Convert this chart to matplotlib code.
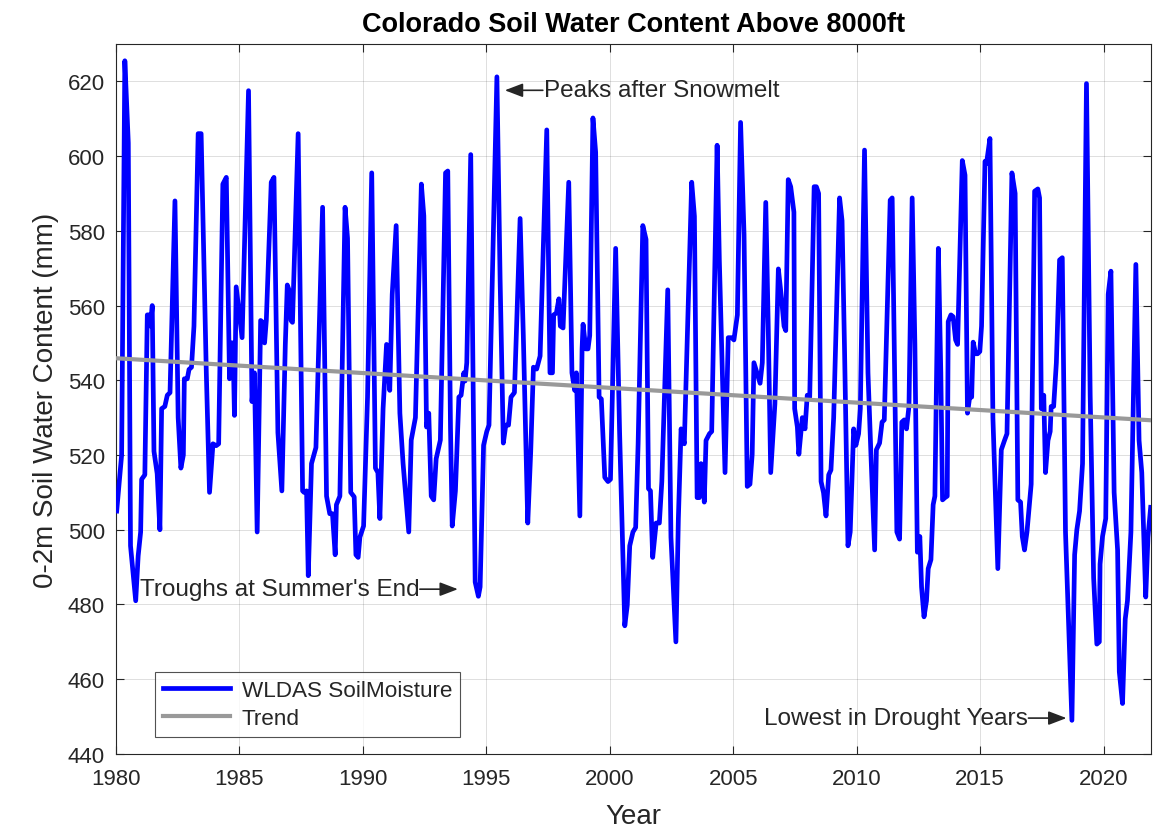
import numpy as np
import matplotlib
matplotlib.use("Agg")
import matplotlib.pyplot as plt

# WLDAS 0-2m soil water content (mm)
years_80s = [1980.03, 1980.23, 1980.36, 1980.50, 1980.59, 1980.80, 1980.90, 1981.00, 1981.04, 1981.17,
             1981.27, 1981.35, 1981.40, 1981.47, 1981.54, 1981.67, 1981.78, 1981.85, 1981.98, 1982.08,
             1982.19, 1982.39, 1982.52, 1982.63, 1982.73, 1982.77, 1982.89, 1982.96, 1983.06, 1983.16,
             1983.33, 1983.45, 1983.66, 1983.79, 1983.93, 1984.06, 1984.16, 1984.33, 1984.47, 1984.60,
             1984.67, 1984.74, 1984.80, 1984.87, 1985.01, 1985.11, 1985.37, 1985.51, 1985.61, 1985.72,
             1985.86, 1985.95, 1986.02, 1986.09, 1986.29, 1986.40, 1986.56, 1986.72, 1986.86, 1986.94,
             1987.02, 1987.09, 1987.15, 1987.38, 1987.56, 1987.62, 1987.72, 1987.79, 1987.92, 1988.10,
             1988.37, 1988.53, 1988.66, 1988.77, 1988.88, 1988.93, 1989.07, 1989.28, 1989.38, 1989.51,
             1989.65, 1989.72, 1989.81, 1989.88]
soil_80s = [505, 520, 625.5, 603.5, 495.7, 481, 493, 499.4, 513.5, 514.7,
            557.5, 557.5, 554.5, 560, 521, 515, 500, 532.4, 533, 536,
            536.7, 588, 530, 516.5, 520, 540.4, 540.4, 542.9, 543.5, 554.5,
            606, 606, 542, 510, 523, 522.5, 523, 592.5, 594.3, 540.4,
            550, 550, 530.6, 565, 557, 551.4, 617.5, 534.3, 542, 499.4,
            556, 555.5, 550, 556, 593, 594.3, 526, 510.4, 549.6, 565.5,
            564, 556, 555.5, 606, 510.4, 510, 510.4, 487.7, 517.7, 522,
            586.3, 509, 504.3, 504.3, 493.3, 506.7, 509, 586.3, 578, 510,
            508.8, 493.3, 492.6, 498]

years_90s = [1990.03, 1990.19, 1990.36, 1990.51, 1990.61, 1990.69, 1990.82, 1990.96, 1991.09, 1991.19,
             1991.35, 1991.50, 1991.63, 1991.86, 1991.96, 1992.13, 1992.37, 1992.47, 1992.58, 1992.67,
             1992.77, 1992.87, 1992.97, 1993.14, 1993.35, 1993.44, 1993.55, 1993.62, 1993.75, 1993.89,
             1993.98, 1994.09, 1994.14, 1994.21, 1994.37, 1994.55, 1994.68, 1994.75, 1994.89, 1995.02,
             1995.11, 1995.43, 1995.56, 1995.69, 1995.79, 1995.90, 1996.00, 1996.14, 1996.37, 1996.50,
             1996.68, 1996.80, 1996.91, 1997.04, 1997.18, 1997.45, 1997.58, 1997.68, 1997.73, 1997.84,
             1997.94, 1998.00, 1998.11, 1998.34, 1998.47, 1998.58, 1998.65, 1998.79, 1998.88, 1998.92,
             1999.03, 1999.12, 1999.19, 1999.32, 1999.43, 1999.57, 1999.66, 1999.80, 1999.93]
soil_90s = [501, 535.5, 595.5, 516.5, 515.3, 503, 532.4, 549.6, 537.3, 563,
            581.4, 531.2, 517.7, 499.4, 524, 530, 592.5, 584, 527.5, 531.2,
            509, 508, 519, 524, 595.5, 596, 527.5, 501, 510.4, 535.5,
            536, 542, 539.8, 544.7, 600.4, 486, 482.2, 484.7, 522.6, 526.3,
            528, 621.2, 567, 523.2, 528, 528, 535.5, 536.7, 583.3, 552,
            501.8, 521, 543.5, 543, 546.5, 607, 542, 542, 557.5, 558,
            561.8, 554.5, 554, 593, 542, 537.3, 542, 503.7, 548.4, 555,
            548.4, 548.4, 552, 610.2, 601, 535.5, 535, 514, 512.9]

years_00s = [2000.03, 2000.24, 2000.40, 2000.61, 2000.71, 2000.81, 2000.94, 2001.05, 2001.15, 2001.34,
             2001.47, 2001.57, 2001.65, 2001.74, 2001.88, 2002.01, 2002.11, 2002.35, 2002.48, 2002.68,
             2002.78, 2002.89, 2003.02, 2003.32, 2003.43, 2003.54, 2003.63, 2003.70, 2003.77, 2003.83,
             2003.90, 2004.04, 2004.13, 2004.35, 2004.44, 2004.67, 2004.80, 2004.94, 2005.03, 2005.17,
             2005.30, 2005.44, 2005.57, 2005.68, 2005.77, 2005.84, 2005.98, 2006.09, 2006.18, 2006.32,
             2006.42, 2006.52, 2006.69, 2006.83, 2006.96, 2007.06, 2007.13, 2007.23, 2007.33, 2007.46,
             2007.49, 2007.60, 2007.66, 2007.80, 2007.91, 2008.00, 2008.10, 2008.28, 2008.37, 2008.46,
             2008.56, 2008.66, 2008.76, 2008.87, 2008.96, 2009.07, 2009.31, 2009.41, 2009.51, 2009.65,
             2009.74, 2009.88, 2009.97]
soil_00s = [513.5, 575.3, 526, 474.3, 479.8, 495.7, 499.4, 500.6, 523, 581.4,
            577.7, 511, 510.4, 492.6, 501.8, 501.8, 512.9, 564.2, 498, 470,
            503, 527, 523, 593, 583.9, 508.6, 508.6, 517.7, 517, 507.4,
            523.9, 525.7, 526.3, 602.9, 572, 515.3, 551.4, 551.4, 550.8, 557.5,
            609, 579, 511.6, 512.2, 520.2, 544.7, 541.6, 539.2, 544.7, 587.6,
            554.5, 515.3, 533.7, 569.8, 561.8, 554.5, 553.3, 593.7, 591.8, 585,
            532.4, 527.5, 520.2, 530, 527, 536, 535.5, 591.8, 591.8, 590,
            512.9, 509.9, 503.7, 514.7, 516, 530, 588.8, 582.7, 548.4, 495.7,
            499.4, 527, 522.6]

years_10s = [2010.08, 2010.15, 2010.32, 2010.46, 2010.58, 2010.73, 2010.80, 2010.93, 2011.03, 2011.12,
             2011.36, 2011.44, 2011.54, 2011.63, 2011.74, 2011.83, 2011.93, 2012.02, 2012.12, 2012.25,
             2012.36, 2012.46, 2012.56, 2012.63, 2012.73, 2012.83, 2012.90, 2013.01, 2013.10, 2013.17,
             2013.31, 2013.41, 2013.48, 2013.58, 2013.67, 2013.71, 2013.82, 2013.91, 2014.01, 2014.09,
             2014.28, 2014.39, 2014.49, 2014.59, 2014.66, 2014.72, 2014.82, 2014.90, 2014.99, 2015.06,
             2015.20, 2015.26, 2015.40, 2015.52, 2015.72, 2015.86, 2015.99, 2016.09, 2016.29, 2016.42,
             2016.53, 2016.64, 2016.71, 2016.80, 2016.90, 2017.07, 2017.21, 2017.34, 2017.41, 2017.48,
             2017.58, 2017.65, 2017.75, 2017.84, 2017.88, 2017.98, 2018.09, 2018.22, 2018.33, 2018.46,
             2018.72, 2018.83, 2018.92, 2019.03, 2019.15, 2019.31, 2019.46, 2019.60, 2019.73, 2019.83,
             2019.86, 2019.96]
soil_10s = [525.7, 532.4, 601.6, 542, 520.2, 494.6, 521.4, 523.2, 528.8, 529.4,
            588.2, 588.8, 542.2, 499.4, 497.5, 528.8, 529.4, 527, 533, 588.8,
            549.6, 494, 498.2, 484.7, 476.7, 481, 489.6, 492, 506.7, 509,
            575.3, 542, 508, 508.6, 509, 555.7, 557.5, 557, 550.8, 549.6,
            598.8, 594.9, 531.2, 536, 535.5, 550.2, 547.1, 547.1, 547.7, 554.5,
            598.6, 598, 604.7, 530, 489.6, 521.4, 523.9, 525.7, 595.5, 590,
            508, 507.4, 498.2, 494.6, 499.4, 512.2, 590.6, 591.2, 588.8, 532.4,
            536, 515.3, 523.9, 526.3, 533, 533, 544.7, 572.2, 572.8, 499.4,
            449, 493.3, 500, 505, 517.7, 619.4, 536, 487.1, 469.4, 470,
            490.8, 498.2]

years_20s = [2020.09, 2020.19, 2020.30, 2020.43, 2020.57, 2020.64, 2020.77, 2020.88, 2020.97, 2021.11,
             2021.31, 2021.44, 2021.55, 2021.71, 2021.80, 2021.91]
soil_20s = [503, 563, 569.2, 510, 494.6, 462, 453.5, 476.1, 481, 499.4,
            571, 523.9, 515.3, 482, 498, 506]

# linear trend end points
trend_years = [1980.0, 2021.92]
trend_soil = [545.9, 529.3]

year_ticks = [1980, 1985, 1990, 1995, 2000, 2005, 2010, 2015, 2020]
soil_ticks = [440, 460, 480, 500, 520, 540, 560, 580, 600, 620]

years = np.concatenate([years_80s, years_90s, years_00s, years_10s, years_20s])
soil = np.concatenate([soil_80s, soil_90s, soil_00s, soil_10s, soil_20s])

plt.rcParams['font.family'] = ['Liberation Sans', 'DejaVu Sans']
dark = '#262626'

fig = plt.figure(figsize=(11.56, 8.28), dpi=100)
ax = fig.add_axes([0.1003, 0.0882, 0.8953, 0.8575])

ax.plot(years, soil, color='#0000ff', lw=3.4, solid_joinstyle='round',
        label='WLDAS SoilMoisture', zorder=3)
ax.plot(trend_years, trend_soil, color='#999999', lw=3.0, label='Trend', zorder=4)

ax.set_xlim(1980, 2021.92)
ax.set_ylim(440, 630)
ax.set_xticks(year_ticks)
ax.set_yticks(soil_ticks)

ax.grid(True, color=dark, alpha=0.15, lw=0.7)
ax.set_axisbelow(True)
ax.tick_params(direction='in', top=True, right=True, length=6, width=0.8,
               colors=dark, labelsize=16)
ax.tick_params(axis='y', pad=8)
ax.tick_params(axis='x', pad=10)
for sp in ax.spines.values():
    sp.set_color(dark)
    sp.set_linewidth(0.8)

ax.set_xlabel('Year', fontsize=20, color=dark, labelpad=10)
ax.set_ylabel('0-2m Soil Water Content (mm)', fontsize=20, color=dark, labelpad=6)
ax.set_title('Colorado Soil Water Content Above 8000ft', fontsize=19.5, fontweight='bold',
             color='#000000', pad=9)

# text arrows
arrow = dict(arrowstyle='-|>,head_length=1.1,head_width=0.42', color=dark, lw=1.2,
             shrinkA=0, shrinkB=0)
ax.annotate('', xy=(1995.75, 617.6), xytext=(1997.29, 617.6), arrowprops=arrow)
ax.text(1997.35, 617.6, 'Peaks after Snowmelt', fontsize=17.5, color=dark,
        ha='left', va='center')
ax.annotate('', xy=(1993.85, 484.1), xytext=(1992.31, 484.1), arrowprops=arrow)
ax.text(1992.28, 484.1, "Troughs at Summer's End", fontsize=17.5, color=dark,
        ha='right', va='center')
ax.annotate('', xy=(2018.50, 449.6), xytext=(2016.96, 449.6), arrowprops=arrow)
ax.text(2016.93, 449.6, 'Lowest in Drought Years', fontsize=17.6, color=dark,
        ha='right', va='center')

leg = ax.legend(loc='lower left', bbox_to_anchor=(0.0377, 0.024), fontsize=16.2,
                frameon=True, fancybox=False, handlelength=3.0, handletextpad=0.5,
                labelspacing=0.3, borderpad=0.35, borderaxespad=0)
leg.get_frame().set_edgecolor(dark)
leg.get_frame().set_linewidth(0.8)
for t in leg.get_texts():
    t.set_color(dark)

fig.savefig('out.png', dpi=100)
